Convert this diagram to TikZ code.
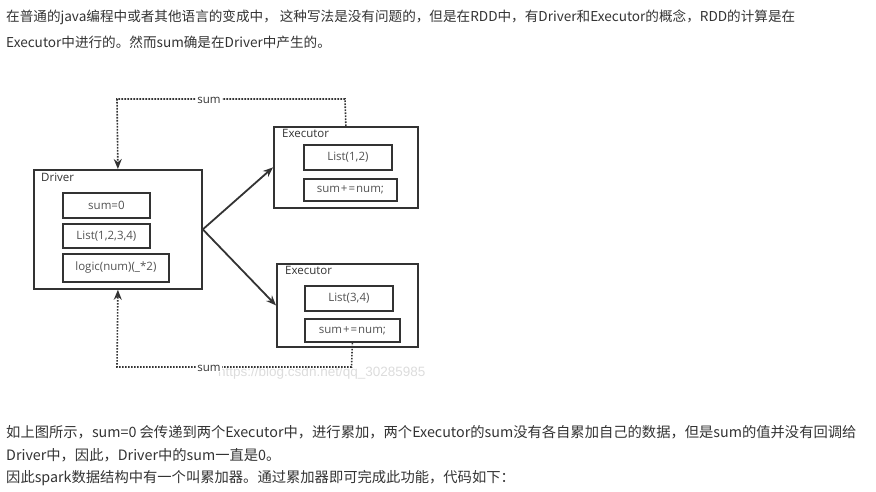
\documentclass[tikz,border=0pt]{standalone}
\usepackage{fontspec}
\setmainfont{Noto Sans CJK SC}
\newfontfamily\diagfont{Open Sans}
\newfontfamily\wmfont{Liberation Sans}
\usetikzlibrary{arrows.meta}
\definecolor{ink}{HTML}{333333}
\definecolor{txt}{HTML}{333333}
\definecolor{wm}{HTML}{DCDCDC}
\begin{document}
\begin{tikzpicture}[x=1pt,y=-1pt,
  outerbox/.style={draw=ink,line width=1.8pt,minimum width=#1,anchor=north west,inner sep=0pt},
  innerbox/.style={draw=ink,line width=1.8pt,anchor=north west,inner sep=0pt,font=\diagfont\fontsize{11.5}{13}\selectfont,text=ink!85},
  boxlabel/.style={anchor=north west,inner sep=0pt,font=\diagfont\fontsize{11.5}{13}\selectfont,text=ink},
  arr/.style={draw=ink,line width=1.8pt,-{Stealth[length=10pt,width=8pt]}},
  dotline/.style={draw=ink,line width=1.6pt,dash pattern=on 1.6pt off 1.4pt},
  dotarr/.style={dotline,-{Stealth[length=10pt,width=8pt]}},
  sumlbl/.style={fill=white,inner sep=1pt,font=\diagfont\fontsize{11.5}{13}\selectfont,text=ink},
  para/.style={anchor=west,inner sep=0pt,font=\fontsize{13.6}{16}\selectfont,text=txt},
  parb/.style={para,font=\fontsize{14.3}{16}\selectfont}]
\useasboundingbox (0,0) rectangle (876,492);

% paragraphs
\node[para] (p1) at (6,17) {在普通的java编程中或者其他语言的变成中， 这种写法是没有问题的，但是在RDD中，有Driver和Executor的概念，RDD的计算是在};
\node[para] (p2) at (6,42) {Executor中进行的。然而sum确是在Driver中产生的。};
\node[parb] (p3) at (6,432) {如上图所示，sum=0 会传递到两个Executor中，进行累加，两个Executor的sum没有各自累加自己的数据，但是sum的值并没有回调给};
\node[parb] (p4) at (6,455) {Driver中，因此，Driver中的sum一直是0。};
\node[parb] (p5) at (6,478) {因此spark数据结构中有一个叫累加器。通过累加器即可完成此功能，代码如下：};

% watermark
\node[anchor=west,inner sep=0pt,font=\wmfont\fontsize{13.5}{15}\selectfont,text=wm] (wmk) at (218,373) {https://blog.csdn.net/qq\_30285985};

% boxes
\node[outerbox=168pt,minimum height=119pt] (driver) at (33,169) {};
\node[boxlabel] (driverlbl) at (41,173) {Driver};
\node[innerbox,minimum width=87pt,minimum height=25pt] (sum0) at (62,192) {sum=0};
\node[innerbox,minimum width=87pt,minimum height=24pt] (list1234) at (62,223) {List(1,2,3,4)};
\node[innerbox,minimum width=106pt,minimum height=28pt] (logic) at (62,253) {logic(num)(\_*2)};

\node[outerbox=144pt,minimum height=81pt] (exec1) at (273,126) {};
\node[boxlabel] (exec1lbl) at (282,129) {Executor};
\node[innerbox,minimum width=88pt,minimum height=25pt] (list12) at (303,144) {List(1,2)};
\node[innerbox,minimum width=93pt,minimum height=22pt] (sumnum1) at (303,178) {sum\kern1pt+\kern1pt=\kern1pt num;};

\node[outerbox=141pt,minimum height=83pt] (exec2) at (276,263) {};
\node[boxlabel] (exec2lbl) at (285,266) {Executor};
\node[innerbox,minimum width=88pt,minimum height=25pt] (list34) at (304,285) {List(3,4)};
\node[innerbox,minimum width=95pt,minimum height=23pt] (sumnum2) at (304,318) {sum\kern1pt+\kern1pt=\kern1pt num;};

% solid arrows
\draw[arr] (driver.east) -- (exec1.west);
\draw[arr] (driver.east) -- (exec2.west);

% dotted return paths
\coordinate (tr) at (345,99);
\coordinate (tl) at (117,99);
\draw[dotarr] (exec1.north) -- (tr) -- (tl) -- (driver.north);
\node[sumlbl] (sumtop) at (209,100) {sum};

\coordinate (br) at (351.5,367);
\coordinate (bl) at (117,367);
\draw[dotarr] (sumnum2.south) -- (br) -- (bl) -- (driver.south);
\node[sumlbl] (sumbot) at (209,368) {sum};
\end{tikzpicture}
\end{document}
